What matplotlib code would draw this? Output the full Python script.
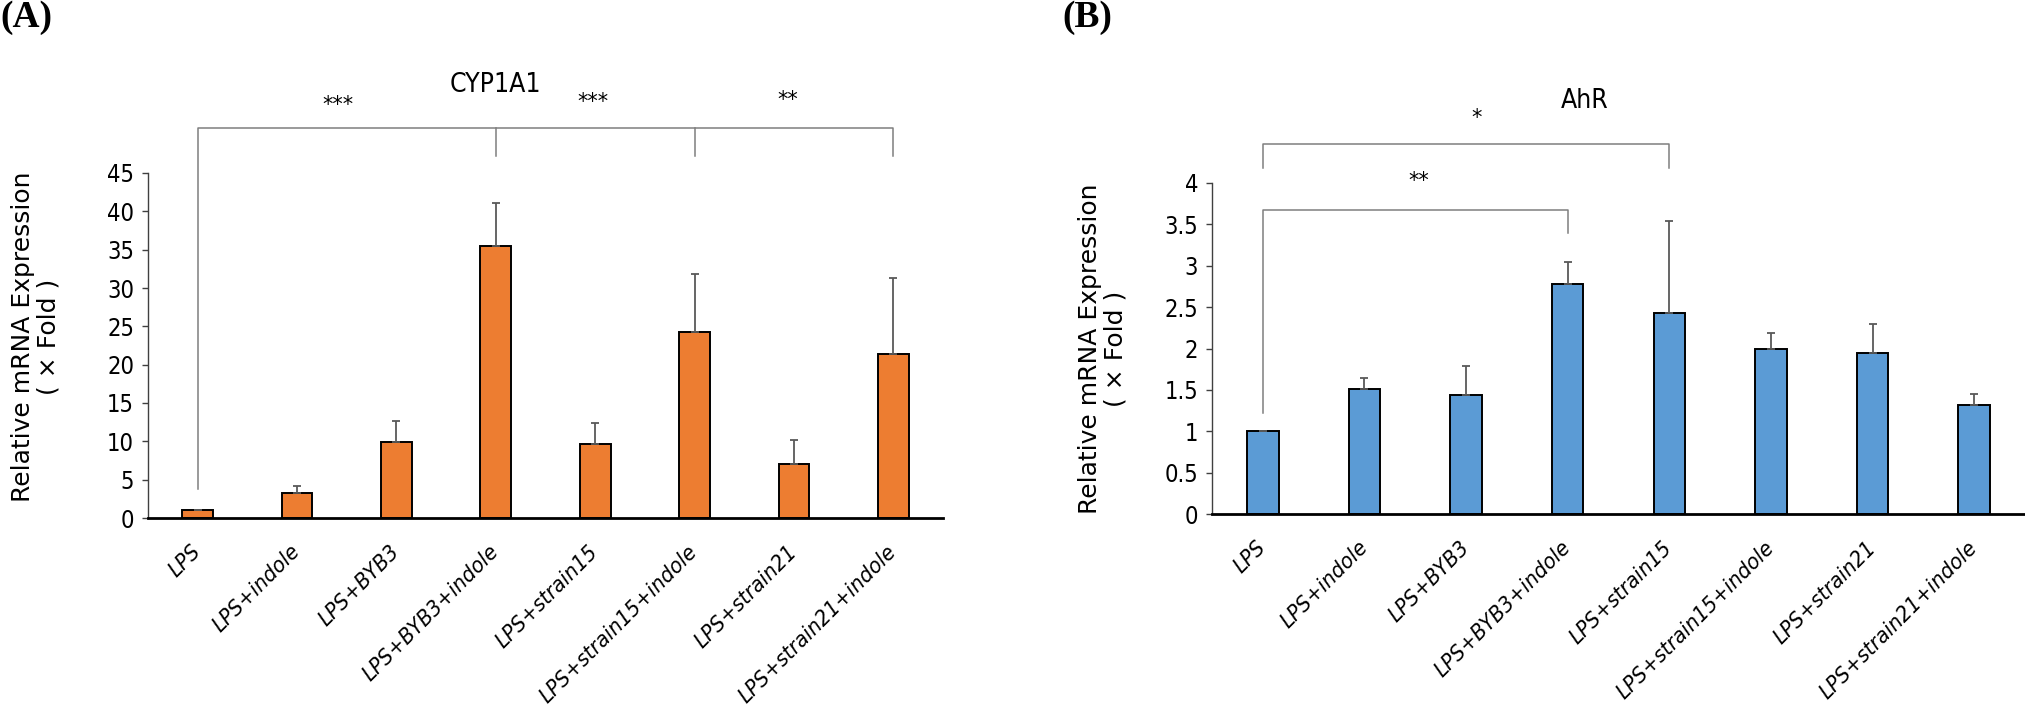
import matplotlib
matplotlib.use("Agg")
import matplotlib.pyplot as plt
from matplotlib import font_manager
from matplotlib.transforms import ScaledTranslation
import numpy as np

# ---- data ----
groups = ["LPS", "LPS+indole", "LPS+BYB3", "LPS+BYB3+indole",
          "LPS+strain15", "LPS+strain15+indole", "LPS+strain21", "LPS+strain21+indole"]

cyp_mean = [1.0, 3.25, 9.85, 35.45, 9.6, 24.3, 7.05, 21.35]
cyp_err = [0.1, 0.95, 2.8, 5.6, 2.85, 7.5, 3.1, 9.9]
cyp_ticks = [0, 5, 10, 15, 20, 25, 30, 35, 40, 45]

ahr_mean = [1.0, 1.51, 1.44, 2.78, 2.43, 1.99, 1.95, 1.32]
ahr_err = [0.0, 0.13, 0.35, 0.26, 1.11, 0.2, 0.35, 0.13]
ahr_ticks = [0, 0.5, 1, 1.5, 2, 2.5, 3, 3.5, 4]

# significance brackets: (from, to, label)
cyp_sig = [(0, 3, "***"), (3, 5, "***"), (5, 7, "**")]
ahr_sig = [(0, 4, "*"), (0, 3, "**")]

ORANGE = "#ED7D31"
BLUE = "#5B9BD5"
LINE_GREY = "#7F7F7F"

names = {f.name for f in font_manager.fontManager.ttflist}
NARROW = "Liberation Sans Narrow" if "Liberation Sans Narrow" in names else "DejaVu Sans"
SERIF = "Liberation Serif" if "Liberation Serif" in names else "DejaVu Serif"

W, H = 2025, 709
fig = plt.figure(figsize=(W / 100, H / 100), dpi=100)


def px_axes(left, right, top, bottom):
    return fig.add_axes([left / W, 1 - bottom / H, (right - left) / W, (bottom - top) / H])


def style_axes(ax, ticks, ymax):
    ax.set_xlim(-0.5, 7.5)
    ax.set_ylim(0, ymax)
    ax.set_yticks(ticks)
    ax.set_yticklabels([f"{t:g}" for t in ticks], family=NARROW, fontsize=17, stretch="condensed")
    ax.set_xticks(range(len(groups)))
    ax.set_xticklabels(groups, rotation=45, ha="right", va="center", rotation_mode="anchor",
                       style="italic", fontsize=16, family=NARROW, stretch="condensed")
    # Excel puts the rotated labels a little right of the category centre
    shift = ScaledTranslation(9 / 100, 0, fig.dpi_scale_trans)
    for lab in ax.get_xticklabels():
        lab.set_transform(lab.get_transform() + shift)
    ax.tick_params(axis="x", length=0, pad=22)
    ax.tick_params(axis="y", length=4, width=1, color="#404040", pad=6)
    for s in ("top", "right"):
        ax.spines[s].set_visible(False)
    ax.spines["left"].set_color("#404040")
    ax.spines["left"].set_linewidth(1.0)
    ax.spines["bottom"].set_color("black")
    ax.spines["bottom"].set_linewidth(2.0)
    ax.set_facecolor("none")


def draw_bars(ax, mean, err, color):
    x = np.arange(len(mean))
    ax.bar(x, mean, width=0.31, color=color, edgecolor="black", linewidth=1.4, zorder=2)
    ax.errorbar(x, mean, yerr=[np.zeros(len(err)), err], fmt="none", ecolor="#595959",
                elinewidth=1.3, capsize=3, capthick=1.3, zorder=3)


def bracket(ax, x0, x1, y, y0_tip, y1_tip, label, label_x, label_y):
    ax.plot([x0, x0, x1, x1], [y0_tip, y, y, y1_tip], color=LINE_GREY, lw=1.1,
            clip_on=False, zorder=1)
    ax.text(label_x, label_y, label, ha="center", va="center", fontsize=15,
            family="DejaVu Sans", clip_on=False)


# ---- panel A: CYP1A1 ----
axA = px_axes(148, 943, 173, 518)
draw_bars(axA, cyp_mean, cyp_err, ORANGE)
style_axes(axA, cyp_ticks, 45)
# joined bracket across the top
axA.plot([0, 0, 7, 7], [3.8, 50.9, 50.9, 47.2], color=LINE_GREY, lw=1.1, clip_on=False)
for xj in (3, 5):
    axA.plot([xj, xj], [47.2, 50.9], color=LINE_GREY, lw=1.1, clip_on=False)
star_pos_A = [(1.41, 53.9), (3.98, 54.3), (5.94, 54.5)]
for (a, b, lab), (lx, ly) in zip(cyp_sig, star_pos_A):
    axA.text(lx, ly, lab, ha="center", va="center", fontsize=15, clip_on=False)
axA.text(3.0, 56.5, "CYP1A1", ha="center", va="center", fontsize=19,
         family=NARROW, stretch="condensed", clip_on=False)

# ---- panel B: AhR ----
axB = px_axes(1212, 2025, 183, 514)
draw_bars(axB, ahr_mean, ahr_err, BLUE)
style_axes(axB, ahr_ticks, 4)
bracket(axB, 0, 4, 4.47, 4.18, 4.18, ahr_sig[0][2], 2.1, 4.78)
bracket(axB, 0, 3, 3.67, 1.22, 3.40, ahr_sig[1][2], 1.53, 4.02)
axB.text(3.17, 4.99, "AhR", ha="center", va="center", fontsize=19,
         family=NARROW, stretch="condensed", clip_on=False)

# ---- y labels and panel letters ----
ylab = "Relative mRNA Expression\n( × Fold )"
fig.text(36 / W, 1 - 337 / H, ylab, rotation=90, ha="center", va="center",
         multialignment="center", fontsize=18, linespacing=1.1)
fig.text(1103 / W, 1 - 349 / H, ylab, rotation=90, ha="center", va="center",
         multialignment="center", fontsize=18, linespacing=1.1)

fig.text(0, 1, "(A)", ha="left", va="top", fontsize=27, fontweight="bold", family=SERIF)
fig.text(1062 / W, 1, "(B)", ha="left", va="top", fontsize=27, fontweight="bold", family=SERIF)

fig.savefig("out.png", dpi=100, facecolor="white")
